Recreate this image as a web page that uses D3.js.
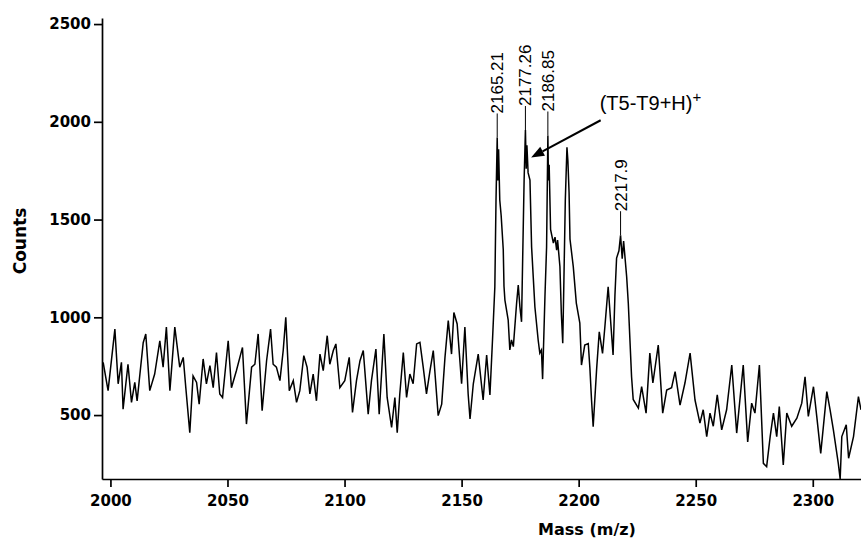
<!DOCTYPE html>
<html>
<head>
<meta charset="utf-8">
<script src="https://cdn.jsdelivr.net/npm/d3@7"></script>
<style>
  body { margin: 0; background: #fff; }
  svg { display: block; }
  .axis text { font-family: "DejaVu Sans", sans-serif; font-weight: bold; font-size: 15px; fill: #000; }
  .axis path, .axis line { stroke: #000; stroke-width: 1.7px; }
  .title { font-family: "DejaVu Sans", sans-serif; font-weight: bold; fill: #000; }
  .peak-label { font-family: "Liberation Sans", Arial, sans-serif; font-size: 17px; fill: #000; }
</style>
</head>
<body>
<svg id="chart" width="861" height="540"></svg>
<script>
// spectrum (mass in m/z, intensity in counts)
var masses = [
  1996.9, 1999.0, 2001.9, 2003.3, 2004.7, 2005.4, 2007.5, 2009.0, 2010.4, 2011.4,
  2014.0, 2015.1, 2016.8, 2018.9, 2021.1, 2022.5, 2023.9, 2025.4, 2027.5, 2029.6,
  2031.1, 2032.2, 2033.9, 2035.3, 2036.8, 2037.9, 2039.6, 2041.0, 2042.5, 2043.9,
  2045.3, 2046.7, 2047.9, 2050.3, 2051.7, 2053.8, 2056.4, 2058.1, 2060.3, 2061.7,
  2063.1, 2064.8, 2066.7, 2068.4, 2069.5, 2070.9, 2072.4, 2073.8, 2074.9, 2076.4,
  2078.1, 2079.5, 2080.9, 2082.6, 2084.0, 2085.2, 2086.6, 2088.0, 2089.5, 2090.9,
  2092.6, 2093.7, 2095.2, 2096.3, 2098.0, 2100.1, 2102.0, 2103.4, 2105.1, 2106.6,
  2108.0, 2110.1, 2111.5, 2113.4, 2114.8, 2116.8, 2118.2, 2120.1, 2121.5, 2122.5,
  2123.6, 2125.1, 2126.5, 2127.9, 2129.3, 2130.8, 2132.2, 2133.6, 2135.0, 2136.5,
  2137.9, 2140.0, 2141.5, 2142.9, 2144.3, 2145.7, 2146.7, 2148.1, 2150.0, 2151.4,
  2152.8, 2153.6, 2155.0, 2157.1, 2159.2, 2160.7, 2162.1, 2163.2, 2164.2, 2164.7,
  2165.21, 2165.5, 2165.8, 2166.3, 2166.9, 2167.8, 2168.1, 2168.5, 2169.9, 2170.6,
  2171.3, 2172.1, 2173.5, 2174.2, 2174.9, 2175.6, 2176.1, 2176.7, 2177.26, 2177.6,
  2177.9, 2178.4, 2179.2, 2179.9, 2180.6, 2181.3, 2182.7, 2183.4, 2184.1, 2184.6,
  2185.6, 2186.3, 2186.85, 2187.1, 2187.4, 2188.0, 2188.5, 2189.2, 2189.9, 2190.6,
  2191.0, 2192.0, 2192.6, 2193.2, 2193.7, 2194.3, 2195.0, 2195.4, 2195.9, 2196.3,
  2197.7, 2199.0, 2200.5, 2201.2, 2202.6, 2204.1, 2204.8, 2205.5, 2206.2, 2207.7,
  2208.8, 2210.2, 2211.2, 2212.6, 2213.3, 2214.7, 2215.5, 2216.2, 2217.2, 2217.9,
  2218.6, 2219.2, 2220.5, 2221.2, 2222.6, 2223.3, 2225.5, 2226.9, 2228.8, 2230.4,
  2231.7, 2234.0, 2235.9, 2237.6, 2239.7, 2241.2, 2243.3, 2245.4, 2247.6, 2249.7,
  2251.8, 2253.2, 2254.7, 2256.1, 2257.5, 2259.2, 2261.1, 2263.2, 2265.4, 2267.5,
  2270.3, 2272.2, 2273.9, 2275.3, 2277.2, 2278.9, 2280.3, 2281.8, 2283.2, 2284.6,
  2285.7, 2287.4, 2288.9, 2291.0, 2293.2, 2295.3, 2296.7, 2298.1, 2300.3, 2301.7,
  2303.4, 2306.0, 2307.4, 2308.8, 2310.9, 2311.7, 2312.4, 2314.3, 2315.3, 2317.4,
  2319.5, 2320.6
];
var counts = [
  770, 625, 940, 660, 770, 530, 760, 565, 667, 573,
  870, 915, 625, 710, 880, 745, 950, 625, 950, 745,
  795, 640, 410, 700, 667, 556, 787, 660, 753, 640,
  820, 608, 590, 880, 640, 727, 846, 454, 745, 760,
  915, 522, 778, 940, 760, 745, 676, 830, 1000, 625,
  676, 565, 625, 804, 745, 608, 710, 573, 812, 727,
  906, 760, 830, 864, 640, 676, 795, 514, 676, 778,
  830, 505, 676, 838, 505, 915, 590, 437, 590, 410,
  608, 820, 590, 710, 660, 864, 872, 745, 608, 727,
  830, 497, 556, 795, 983, 812, 1025, 966, 660, 950,
  608, 480, 660, 812, 577, 807, 603, 884, 1156, 1600,
  1920, 1700, 1860, 1600, 1520, 1344, 1160, 1088, 986, 833,
  884, 850, 1073, 1165, 1054, 977, 1310, 1700, 1958, 1760,
  1880, 1740, 1702, 1360, 1207, 1054, 884, 817, 833, 684,
  1105, 1360, 1930, 1700, 1780, 1450, 1420, 1380, 1410, 1344,
  1395, 1259, 1020, 868, 1190, 1600, 1870, 1800, 1640, 1400,
  1259, 1073, 970, 756, 858, 866, 740, 577, 440, 740,
  926, 815, 952, 1156, 1040, 807, 1114, 1303, 1340, 1420,
  1300, 1390, 1208, 1073, 696, 580, 536, 645, 510, 817,
  664, 858, 510, 628, 640, 722, 551, 664, 817, 577,
  459, 527, 390, 510, 443, 603, 424, 527, 756, 408,
  756, 363, 561, 510, 756, 253, 236, 390, 510, 390,
  544, 245, 510, 443, 484, 561, 696, 493, 645, 493,
  304, 620, 527, 424, 253, 173, 390, 450, 279, 390,
  594, 527
];

var xTicks = [2000, 2050, 2100, 2150, 2200, 2250, 2300];
var yTicks = [500, 1000, 1500, 2000, 2500];

// labelled peaks
var peakMasses = [2165.21, 2177.26, 2186.85, 2217.9];
var peakLabels = ['2165.21', '2177.26', '2186.85', '2217.9'];

// arrow annotation, in data units
var ionName = '(T5-T9+H)';
var arrowFrom = [2209.4, 2008];
var arrowTo = [2179.7, 1818];

var svg = d3.select('#chart');
var margin = { top: 18, right: 0, bottom: 61, left: 102 };
var width = 861, height = 540;

var x = d3.scaleLinear()
  .domain([1996.4, 2320.6])
  .range([margin.left, width - margin.right]);

var y = d3.scaleLinear()
  .domain([173, 2531])
  .range([height - margin.bottom, margin.top]);

svg.append('rect')
  .attr('width', width).attr('height', height)
  .attr('fill', '#fff');

svg.append('defs').append('clipPath').attr('id', 'plot')
  .append('rect')
  .attr('x', margin.left).attr('y', margin.top)
  .attr('width', width - margin.left - margin.right)
  .attr('height', height - margin.top - margin.bottom);

var points = masses.map(function (m, i) { return [m, counts[i]]; });

svg.append('path')
  .datum(points)
  .attr('clip-path', 'url(#plot)')
  .attr('fill', 'none')
  .attr('stroke', '#000')
  .attr('stroke-width', 1.5)
  .attr('d', d3.line()
    .x(function (d) { return x(d[0]); })
    .y(function (d) { return y(d[1]); }));

// axes
svg.append('g')
  .attr('class', 'axis')
  .attr('transform', 'translate(0,' + (height - margin.bottom) + ')')
  .call(d3.axisBottom(x).tickValues(xTicks).tickSize(8).tickPadding(8).tickSizeOuter(0)
    .tickFormat(d3.format('d')));

svg.append('g')
  .attr('class', 'axis')
  .attr('transform', 'translate(' + margin.left + ',0)')
  .call(d3.axisLeft(y).tickValues(yTicks).tickSize(8).tickPadding(3).tickSizeOuter(0)
    .tickFormat(d3.format('d')));

svg.append('text')
  .attr('class', 'title')
  .attr('x', 587).attr('y', 535)
  .attr('text-anchor', 'middle')
  .style('font-size', '16px')
  .text('Mass (m/z)');

svg.append('text')
  .attr('class', 'title')
  .attr('transform', 'translate(26,241) rotate(-90)')
  .attr('text-anchor', 'middle')
  .style('font-size', '17px')
  .text('Counts');

// peak labels with short connectors
var peakLift = 24;
var labels = svg.selectAll('g.peak')
  .data(peakMasses)
  .enter().append('g')
  .attr('class', 'peak');

labels.each(function (m, i) {
  var that = d3.select(this);
  var top = y(counts[masses.indexOf(m)]);
  that.append('line')
    .attr('x1', x(m)).attr('x2', x(m))
    .attr('y1', top).attr('y2', top - peakLift)
    .attr('stroke', '#000').attr('stroke-width', 1);
  that.append('text')
    .attr('class', 'peak-label')
    .attr('transform', 'translate(' + x(m) + ',' + (top - peakLift) + ') rotate(-90)')
    .attr('dy', '0.35em')
    .text(peakLabels[i]);
});

// arrow to the T5-T9 ion
var ax1 = x(arrowFrom[0]), ay1 = y(arrowFrom[1]);
var ax2 = x(arrowTo[0]), ay2 = y(arrowTo[1]);
var ang = Math.atan2(ay2 - ay1, ax2 - ax1);
var headLen = 13, headW = 5;
var bx = ax2 - headLen * Math.cos(ang), by = ay2 - headLen * Math.sin(ang);

svg.append('line')
  .attr('x1', ax1).attr('y1', ay1)
  .attr('x2', bx).attr('y2', by)
  .attr('stroke', '#000').attr('stroke-width', 2);

svg.append('path')
  .attr('fill', '#000')
  .attr('d', 'M' + ax2 + ',' + ay2 +
    'L' + (bx + headW * Math.sin(ang)) + ',' + (by - headW * Math.cos(ang)) +
    'L' + (bx - headW * Math.sin(ang)) + ',' + (by + headW * Math.cos(ang)) + 'Z');

var ion = svg.append('text')
  .attr('class', 'peak-label')
  .attr('x', ax1 - 1).attr('y', ay1 - 10)
  .style('font-size', '20px');
ion.append('tspan').text(ionName);
ion.append('tspan').attr('dy', -8).style('font-size', '15px').text('+');
</script>
</body>
</html>
